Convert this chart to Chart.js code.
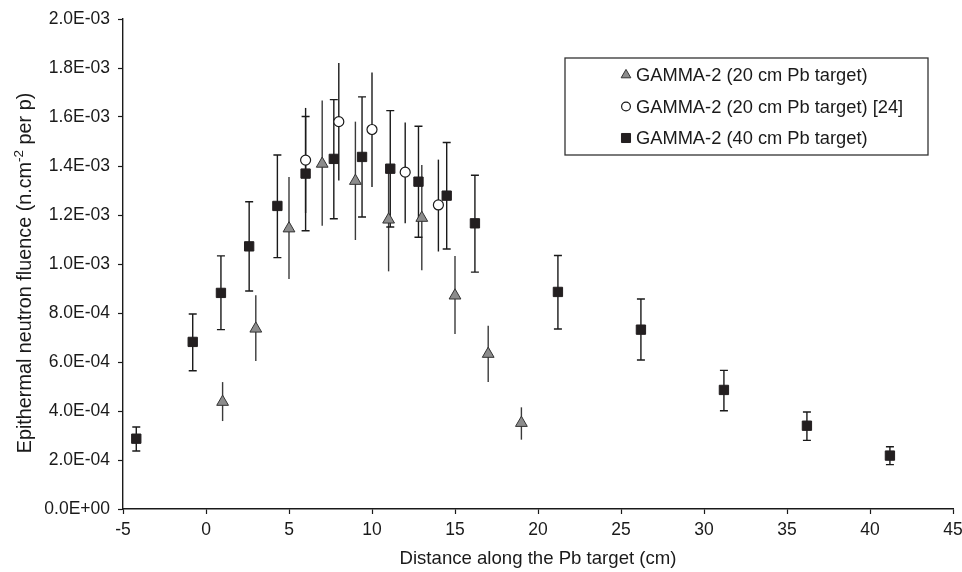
<!DOCTYPE html>
<html>
<head>
<meta charset="utf-8">
<title>Epithermal neutron fluence along the Pb target</title>
<script src="https://cdn.jsdelivr.net/npm/chart.js@4.4.1/dist/chart.umd.min.js"></script>
<style>
  html, body { margin: 0; padding: 0; background: #fff; }
  canvas { display: block; }
</style>
</head>
<body>
<canvas id="fluenceChart" width="962" height="572"></canvas>
<script>
// GAMMA-2, 20 cm Pb target (grey triangles)
const tri20X  = [1, 3, 5, 7, 9, 11, 13, 15, 17, 19];
const tri20Y  = [4.37e-4, 7.36e-4, 1.145e-3, 1.409e-3, 1.339e-3, 1.181e-3, 1.188e-3, 8.71e-4, 6.33e-4, 3.51e-4];
const tri20Lo = [3.59e-4, 6.04e-4, 9.39e-4, 1.156e-3, 1.098e-3, 9.70e-4, 9.74e-4, 7.14e-4, 5.18e-4, 2.83e-4];
const tri20Hi = [5.18e-4, 8.72e-4, 1.355e-3, 1.667e-3, 1.581e-3, 1.392e-3, 1.404e-3, 1.033e-3, 7.48e-4, 4.15e-4];

// GAMMA-2, 20 cm Pb target, ref. [24] (open circles)
const ref24X  = [6, 8, 10, 12, 14];
const ref24Y  = [1.424e-3, 1.581e-3, 1.549e-3, 1.375e-3, 1.241e-3];
const ref24Lo = [1.208e-3, 1.341e-3, 1.314e-3, 1.166e-3, 1.051e-3];
const ref24Hi = [1.637e-3, 1.820e-3, 1.782e-3, 1.578e-3, 1.426e-3];

// GAMMA-2, 40 cm Pb target (black squares)
const sq40X  = [-4.2, -0.8, 0.9, 2.6, 4.3, 6.0, 7.7, 9.4, 11.1, 12.8, 14.5, 16.2, 21.2, 26.2, 31.2, 36.2, 41.2];
const sq40Y  = [2.87e-4, 6.82e-4, 8.82e-4, 1.072e-3, 1.237e-3, 1.369e-3, 1.429e-3, 1.437e-3, 1.389e-3, 1.336e-3, 1.279e-3, 1.166e-3, 8.86e-4, 7.32e-4, 4.86e-4, 3.40e-4, 2.18e-4];
const sq40Lo = [2.37e-4, 5.64e-4, 7.32e-4, 8.90e-4, 1.026e-3, 1.136e-3, 1.185e-3, 1.192e-3, 1.151e-3, 1.109e-3, 1.061e-3, 9.67e-4, 7.35e-4, 6.08e-4, 4.01e-4, 2.80e-4, 1.81e-4];
const sq40Hi = [3.35e-4, 7.96e-4, 1.033e-3, 1.254e-3, 1.445e-3, 1.602e-3, 1.671e-3, 1.682e-3, 1.626e-3, 1.562e-3, 1.496e-3, 1.362e-3, 1.035e-3, 8.57e-4, 5.66e-4, 3.96e-4, 2.54e-4];

const yTickLabels = ["0.0E+00", "2.0E-04", "4.0E-04", "6.0E-04", "8.0E-04", "1.0E-03",
                     "1.2E-03", "1.4E-03", "1.6E-03", "1.8E-03", "2.0E-03"];

const FONT = "'Liberation Sans', Arial, Helvetica, sans-serif";
const INK = "#1a1a1a";

const toPoints = (xs, ys) => xs.map((x, i) => ({ x: x, y: ys[i] }));

const datasets = [
  {
    label: "GAMMA-2 (20 cm Pb target)",
    data: toPoints(tri20X, tri20Y),
    errLo: tri20Lo, errHi: tri20Hi, errColor: "#3a3a3a", capWidth: 0,
    pointStyle: "triangle", pointRadius: 6.8, borderWidth: 1,
    backgroundColor: "#8c8c8c", borderColor: "#333333", legendRadius: 5.6, order: 3
  },
  {
    label: "GAMMA-2 (20 cm Pb target) [24]",
    data: toPoints(ref24X, ref24Y),
    errLo: ref24Lo, errHi: ref24Hi, errColor: "#1a1a1a", capWidth: 0,
    pointStyle: "circle", pointRadius: 5, borderWidth: 1.2,
    backgroundColor: "#ffffff", borderColor: "#1a1a1a", legendRadius: 4.4, order: 2
  },
  {
    label: "GAMMA-2 (40 cm Pb target)",
    data: toPoints(sq40X, sq40Y),
    errLo: sq40Lo, errHi: sq40Hi, errColor: "#1a1a1a", capWidth: 8,
    pointStyle: "rect", pointRadius: 6.6, borderWidth: 1,
    backgroundColor: "#231f20", borderColor: "#231f20", legendRadius: 6.4, order: 1
  }
];

// vertical error bars, drawn under the markers
const errorBars = {
  id: "errorBars",
  beforeDatasetsDraw(chart) {
    const { ctx, scales: { x, y } } = chart;
    chart.data.datasets.forEach(ds => {
      ctx.save();
      ctx.strokeStyle = ds.errColor;
      ctx.lineWidth = 1.4;
      ds.data.forEach((p, j) => {
        const px = x.getPixelForValue(p.x);
        const top = y.getPixelForValue(ds.errHi[j]);
        const bot = y.getPixelForValue(ds.errLo[j]);
        ctx.beginPath();
        ctx.moveTo(px, top);
        ctx.lineTo(px, bot);
        if (ds.capWidth) {
          const h = ds.capWidth / 2;
          ctx.moveTo(px - h, top); ctx.lineTo(px + h, top);
          ctx.moveTo(px - h, bot); ctx.lineTo(px + h, bot);
        }
        ctx.stroke();
      });
      ctx.restore();
    });
  }
};

// boxed legend in the upper right of the plot
const boxLegend = {
  id: "boxLegend",
  afterDraw(chart) {
    const ctx = chart.ctx;
    const box = { left: 565, top: 58, width: 363, height: 97 };
    ctx.save();
    ctx.fillStyle = "#ffffff";
    ctx.fillRect(box.left, box.top, box.width, box.height);
    ctx.strokeStyle = "#333333";
    ctx.lineWidth = 1.3;
    ctx.strokeRect(box.left, box.top, box.width, box.height);
    ctx.font = "18.3px " + FONT;
    ctx.textBaseline = "middle";
    ctx.fillStyle = INK;
    chart.data.datasets.forEach((ds, i) => {
      const rowY = 75 + i * 31.5;
      ctx.save();
      ctx.fillStyle = ds.backgroundColor;
      ctx.strokeStyle = ds.borderColor;
      ctx.lineWidth = ds.borderWidth;
      Chart.helpers.drawPoint(ctx, {
        pointStyle: ds.pointStyle,
        radius: ds.legendRadius,
        borderWidth: ds.borderWidth,
        rotation: 0
      }, 626, rowY);
      ctx.restore();
      ctx.fillText(ds.label, 636, rowY + 1);
    });
    ctx.restore();
  }
};

// y-axis title with the superscript in n.cm^-2
const yTitle = {
  id: "yTitle",
  afterDraw(chart) {
    const ctx = chart.ctx;
    const main = "19.8px " + FONT, sup = "13.5px " + FONT;
    const a = "Epithermal neutron fluence (n.cm", s = "-2", b = " per p)";
    ctx.save();
    ctx.font = main;
    const wa = ctx.measureText(a).width, wb = ctx.measureText(b).width;
    ctx.font = sup;
    const ws = ctx.measureText(s).width;
    const total = wa + ws + wb;
    ctx.translate(31, 273);
    ctx.rotate(-Math.PI / 2);
    ctx.fillStyle = INK;
    ctx.textBaseline = "alphabetic";
    let cx = -total / 2;
    ctx.font = main; ctx.fillText(a, cx, 0); cx += wa;
    ctx.font = sup;  ctx.fillText(s, cx, -8); cx += ws;
    ctx.font = main; ctx.fillText(b, cx, 0);
    ctx.restore();
  }
};

const axisGrid = {
  display: true, drawOnChartArea: false, drawTicks: true,
  tickLength: 5, tickWidth: 1.2, color: "#1a1a1a"
};

new Chart(document.getElementById("fluenceChart").getContext("2d"), {
  type: "scatter",
  data: { datasets: datasets },
  options: {
    responsive: false,
    animation: false,
    layout: { padding: { top: 19, right: 9, bottom: 0, left: 0 } },
    plugins: {
      legend: { display: false },
      tooltip: { enabled: false }
    },
    scales: {
      x: {
        type: "linear", min: -5, max: 45,
        border: { color: "#1a1a1a", width: 1.4 },
        grid: axisGrid,
        ticks: { stepSize: 5, padding: 6, color: INK, font: { family: FONT, size: 17.5 } },
        title: {
          display: true, text: "Distance along the Pb target (cm)", color: INK,
          font: { family: FONT, size: 18.6 }, padding: { top: 0, bottom: 2 }
        },
        afterFit: s => { s.height = 63; s.paddingLeft = 0; s.paddingRight = 0; }
      },
      y: {
        type: "linear", min: 0, max: 2.0e-3,
        border: { color: "#1a1a1a", width: 1.4 },
        grid: axisGrid,
        ticks: {
          stepSize: 2.0e-4, padding: 8, color: INK, font: { family: FONT, size: 17.5 },
          callback: (v, i) => yTickLabels[i]
        },
        afterFit: s => { s.width = 123; }
      }
    }
  },
  plugins: [errorBars, boxLegend, yTitle]
});
</script>
</body>
</html>
